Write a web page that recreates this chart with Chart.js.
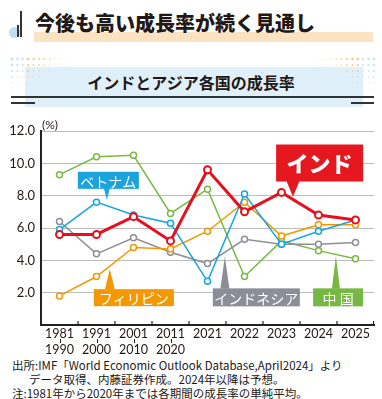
<!DOCTYPE html>
<html lang="ja">
<head>
<meta charset="utf-8">
<script src="https://cdn.jsdelivr.net/npm/chart.js@4/dist/chart.umd.min.js"></script>
<style>
  body { margin: 0; background: #fff; }
  #wrap { position: relative; width: 382px; height: 399px; overflow: hidden;
          font-family: "Noto Sans CJK JP", sans-serif; color: #231815; }
  #wrap div { position: absolute; }
  .line { background: #333; }
  #title { left: 35px; top: 9px; font-size: 20px; font-weight: 900; line-height: 28px; white-space: nowrap; }
  #band { left: 34px; top: 32px; width: 339px; height: 10px; background: #fbe3c1; }
  #circle { left: 9px; top: 27px; width: 11px; height: 11px; border-radius: 50%; background: #bfe0f4; }
  #subbox { left: 25px; top: 67px; width: 338px; height: 40px; background: #dff0fa; }
  #subtitle { left: 0; width: 382px; top: 71px; text-align: center; font-size: 16px; font-weight: 700; line-height: 22px; }
  #notes { left: 12px; top: 358px; font-size: 11.5px; line-height: 14px; white-space: nowrap; }
  #notes .ind { padding-left: 17px; }
  canvas { position: absolute; left: 0; top: 0; }
</style>
</head>
<body>
<div id="wrap">
  <div id="band"></div>
  <div id="circle"></div>
  <div class="line" style="left:20px;top:11px;width:1.5px;height:26px;"></div>
  <div class="line" style="left:17px;top:25px;width:1.5px;height:12px;"></div>
  <div id="title">今後も高い成長率が続く見通し</div>
  <div id="subbox"></div>
  <div class="line" style="left:11px;top:96px;width:363px;height:1.5px;"></div>
  <div class="line" style="left:11px;top:102px;width:24px;height:1.5px;"></div>
  <div class="line" style="left:351px;top:102px;width:23px;height:1.5px;"></div>
  <div id="subtitle">インドとアジア各国の成長率</div>
  <div id="notes">出所:IMF「World Economic Outlook Database,April2024」より<br><span class="ind">データ取得、内藤証券作成。2024年以降は予想。</span><br>注:1981年から2020年までは各期間の成長率の単純平均。</div>
  <canvas id="chart" width="382" height="399"></canvas>
</div>
<script>
// categories (periods)
const periodStart = ['1981', '1991', '2001', '2011', '2021', '2022', '2023', '2024', '2025'];
const periodEnd   = ['1990', '2000', '2010', '2020', null, null, null, null, null];

// growth rates (%)
const india       = [5.6, 5.6, 6.7, 5.2, 9.6, 7.0, 8.2, 6.8, 6.5];
const vietnam     = [5.9, 7.6, 6.8, 6.3, 2.7, 8.1, 5.0, 5.8, 6.5];
const china       = [9.3, 10.4, 10.5, 6.9, 8.4, 3.0, 5.2, 4.6, 4.1];
const indonesia   = [6.4, 4.4, 5.4, 4.5, 3.8, 5.3, 5.0, 5.0, 5.1];
const philippines = [1.8, 3.0, 4.8, 4.7, 5.8, 7.6, 5.5, 6.2, 6.2];

const yTicks = [0, 2, 4, 6, 8, 10, 12];

const labels = periodStart.map((s, i) => periodEnd[i] ? [s, '', periodEnd[i]] : s);

// callout boxes, placed in data units (category index, value)
const callouts = [
  { text: 'インド', color: '#e5171f', i: 7.03, v: 10.02, w: 87, h: 37, tipI: 6.31, tipV: 7.94, base: 13, size: 22, bold: true },
  { text: 'ベトナム', color: '#1aa3dc', i: 1.32, v: 8.95, w: 61, h: 17, tipI: 1.28, tipV: 7.75, base: 6, size: 14 },
  { text: 'フィリピン', color: '#f39800', i: 2.01, v: 1.69, w: 80, h: 17, tipI: 1.36, tipV: 3.46, base: 10, size: 14 },
  { text: 'インドネシア', color: '#8d8d97', i: 5.32, v: 1.71, w: 87, h: 18, tipI: 4.47, tipV: 4.23, base: 9, size: 14 },
  { text: '中 国', color: '#76b843', i: 7.53, v: 1.71, w: 50, h: 18, tipI: 7.47, tipV: 4.27, base: 8, size: 14 }
];

function drawDots(ctx) {
  for (let side = 0; side < 2; side++) {
    for (let r = 0; r < 6; r++) {
      for (let c = 0; c < 14; c++) {
        const rad = 1.6 - c * 0.1 - r * 0.22;
        if (rad <= 0.3) continue;
        let x = 12 + c * 5.4;
        if (side) x = 386 - x;
        const y = 59 + r * 6;
        ctx.fillStyle = c < 3 ? '#c4e2f5' : '#f6ac45';
        ctx.globalAlpha = Math.max(0.3, 0.9 - c * 0.06);
        ctx.beginPath();
        ctx.arc(x, y, rad, 0, Math.PI * 2);
        ctx.fill();
      }
    }
  }
  ctx.globalAlpha = 1;
}

const extras = {
  id: 'extras',
  beforeDraw(chart) {
    drawDots(chart.ctx);
  },
  afterDraw(chart) {
    const ctx = chart.ctx;
    const xs = chart.scales.x, ys = chart.scales.y;
    const area = chart.chartArea;
    ctx.save();
    // small upward ticks on x axis at period boundaries
    ctx.strokeStyle = '#222';
    ctx.lineWidth = 1.2;
    for (let k = 1; k <= periodStart.length; k++) {
      const x = (xs.getPixelForValue(k - 1) + (k < periodStart.length ? xs.getPixelForValue(k) : xs.right + (xs.right - xs.getPixelForValue(k - 1)))) / 2;
      ctx.beginPath();
      ctx.moveTo(Math.min(x, xs.right - 0.5), area.bottom);
      ctx.lineTo(Math.min(x, xs.right - 0.5), area.bottom - 4);
      ctx.stroke();
    }
    // dash between start and end year
    ctx.lineWidth = 1;
    periodEnd.forEach((e, i) => {
      if (!e) return;
      const x = Math.round(xs.getPixelForValue(i)) + 0.5;
      ctx.beginPath();
      ctx.moveTo(x, area.bottom + 14);
      ctx.lineTo(x, area.bottom + 18);
      ctx.stroke();
    });
    // unit
    ctx.fillStyle = '#231815';
    ctx.font = '12px Lato, sans-serif';
    ctx.textAlign = 'left';
    ctx.textBaseline = 'middle';
    ctx.fillText('(%)', area.left + 1, area.top - 6);
    // callouts
    callouts.forEach(c => {
      const cx = xs.getPixelForValue(c.i), cy = ys.getPixelForValue(c.v);
      const tx = xs.getPixelForValue(c.tipI), ty = ys.getPixelForValue(c.tipV);
      const top = cy - c.h / 2, bottom = cy + c.h / 2;
      ctx.fillStyle = c.color;
      ctx.fillRect(cx - c.w / 2, top, c.w, c.h);
      const by = ty > cy ? bottom - 0.5 : top + 0.5;
      ctx.beginPath();
      ctx.moveTo(tx - c.base / 2, by);
      ctx.lineTo(tx + c.base / 2, by);
      ctx.lineTo(tx, ty);
      ctx.closePath();
      ctx.fill();
      ctx.fillStyle = '#fff';
      ctx.font = (c.bold ? '900 ' : '400 ') + c.size + 'px "Noto Sans CJK JP", sans-serif';
      ctx.textAlign = 'center';
      ctx.textBaseline = 'middle';
      ctx.fillText(c.text, cx, cy + 1);
    });
    ctx.restore();
  }
};

function series(label, data, color, width, radius, borderW) {
  return {
    label, data,
    borderColor: color,
    borderWidth: width,
    pointRadius: radius,
    pointBorderWidth: borderW,
    pointBackgroundColor: '#fff',
    pointBorderColor: color,
    tension: 0
  };
}

new Chart(document.getElementById('chart'), {
  type: 'line',
  data: {
    labels: labels,
    datasets: [
      series('インド', india, '#e60f1e', 3, 3.5, 2),
      series('ベトナム', vietnam, '#13a6e0', 1.5, 3, 1.5),
      series('フィリピン', philippines, '#f39800', 1.5, 3, 1.5),
      series('インドネシア', indonesia, '#8e8e96', 1.5, 3, 1.5),
      series('中国', china, '#78b944', 1.5, 3, 1.5)
    ]
  },
  options: {
    responsive: false,
    devicePixelRatio: 1,
    animation: false,
    layout: { padding: { left: 0, top: 131, right: 8, bottom: 44 } },
    plugins: { legend: { display: false }, tooltip: { enabled: false } },
    scales: {
      x: {
        offset: true,
        grid: { display: false, drawTicks: false },
        border: { color: '#222', width: 2 },
        ticks: { color: '#231815', padding: 5, maxRotation: 0, autoSkip: false,
                 font: { family: 'Lato, sans-serif', size: 12.5, lineHeight: '8px' } },
        afterFit: s => { s.height = 30; }
      },
      y: {
        min: 0, max: 12,
        afterBuildTicks: s => { s.ticks = yTicks.map(v => ({ value: v })); },
        grid: { color: '#bdbdbd', lineWidth: 1, drawTicks: false },
        border: { color: '#222', width: 2 },
        ticks: { color: '#231815', padding: 6,
                 font: { family: 'Lato, sans-serif', size: 13 },
                 callback: v => v === 0 ? '' : v.toFixed(1) },
        afterFit: s => { s.width = 41; }
      }
    }
  },
  plugins: [extras]
});
</script>
</body>
</html>
